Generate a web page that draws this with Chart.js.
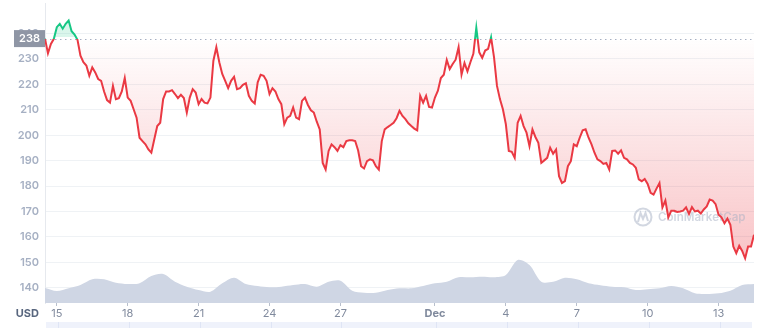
<!DOCTYPE html>
<html>
<head>
<meta charset="utf-8">
<script src="https://cdn.jsdelivr.net/npm/chart.js@4.4.1/dist/chart.umd.min.js"></script>
<style>
  html, body { margin: 0; padding: 0; background: #fff; }
  #wrap { width: 777px; height: 328px; position: relative; }
</style>
</head>
<body>
<div id="wrap"><canvas id="priceChart"></canvas></div>
<script>
// price every 3 hours, starting Nov 14 12:00 (x values are day-of-period, Dec 1 = 31)
const startDay = 14.5;
const stepDays = 3 / 24;
const baseline = 238;

const prices = [
  238.0, 232.2, 235.9, 237.9, 242.5, 243.8, 241.9, 243.8, 245.1, 240.9,
  239.6, 237.5, 231.3, 228.7, 227.4, 223.4, 226.7, 224.7, 222.1, 221.4,
  217.2, 213.8, 212.8, 219.4, 214.2, 214.6, 217.2, 222.5, 214.8, 213.5,
  210.2, 206.9, 199.0, 197.7, 196.4, 194.4, 193.1, 198.4, 203.6, 204.9,
  214.2, 217.2, 217.2, 217.7, 216.2, 214.6, 215.9, 214.6, 208.9, 214.8,
  218.1, 216.8, 212.2, 214.2, 212.8, 212.5, 214.8, 229.3, 234.6, 228.7,
  224.1, 221.4, 218.5, 221.4, 223.0, 218.1, 218.5, 219.8, 220.4, 215.5,
  213.5, 212.5, 220.8, 223.8, 223.4, 221.4, 216.2, 218.5, 217.2, 214.2,
  212.2, 204.3, 206.9, 207.6, 210.9, 206.9, 206.3, 213.5, 214.8, 211.9,
  209.8, 208.9, 205.3, 202.3, 189.1, 186.5, 193.8, 196.4, 195.3, 193.8,
  196.1, 195.3, 197.7, 198.0, 198.0, 197.7, 194.0, 187.8, 186.9, 189.8,
  190.5, 190.1, 187.8, 186.5, 197.7, 202.3, 203.2, 204.0, 204.9, 206.7,
  209.6, 207.6, 206.3, 204.7, 203.6, 202.6, 201.9, 215.5, 212.8, 215.5,
  211.1, 210.9, 214.8, 217.5, 222.5, 223.8, 229.6, 226.0, 228.0, 229.7,
  234.6, 223.8, 228.4, 225.1, 228.7, 232.0, 242.3, 232.6, 230.4, 233.3,
  234.0, 238.5, 230.6, 219.4, 214.2, 210.2, 204.3, 193.8, 193.5, 191.1,
  204.9, 207.6, 203.6, 201.0, 195.7, 202.3, 199.3, 197.0, 189.1, 190.1,
  191.1, 195.1, 192.7, 194.4, 183.9, 181.2, 181.9, 187.8, 189.8, 196.4,
  195.7, 199.0, 201.9, 202.3, 199.0, 196.4, 193.1, 190.5, 189.8, 188.7,
  189.1, 186.5, 193.8, 194.0, 192.7, 194.0, 191.1, 190.5, 189.1, 188.5,
  187.2, 182.6, 181.9, 182.8, 180.8, 177.3, 176.6, 179.0, 181.2, 171.6,
  174.3, 167.7, 170.3, 170.3, 169.8, 170.0, 170.3, 171.6, 169.0, 171.7,
  170.0, 170.3, 169.2, 170.8, 172.0, 174.7, 174.3, 172.9, 168.7, 167.7,
  165.4, 167.2, 164.8, 156.2, 153.6, 156.5, 154.5, 151.6, 156.2, 156.2,
  160.8
];

// volume every 12 hours (millions USD)
const volStep = 0.5;
const volumes = [
  150, 120, 147, 180, 237, 237, 203, 190, 197, 270,
  290, 213, 163, 130, 113, 197, 253, 190, 170, 157,
  163, 180, 190, 163, 213, 223, 123, 103, 103, 130,
  147, 147, 170, 197, 213, 257, 257, 263, 257, 280,
  430, 380, 213, 213, 253, 237, 197, 177, 163, 157,
  130, 137, 147, 170, 147, 97, 90, 97, 123, 180,
  190
];

const yTicks = [140, 150, 160, 170, 180, 190, 200, 210, 220, 230, 240];
const xTickDays = [15, 18, 21, 24, 27, 31, 34, 37, 40, 43];
const xTickLabels = ['15', '18', '21', '24', '27', 'Dec', '4', '7', '10', '13'];

const RED = '#ea3943';
const GREEN = '#16c784';

const priceData = prices.map((p, i) => ({ x: startDay + i * stepDays, y: p }));
const volumeData = volumes.map((v, i) => ({ x: startDay + i * volStep, y: v }));

function baseFrac(chart) {
  const area = chart.chartArea;
  const yb = chart.scales.y.getPixelForValue(baseline);
  return Math.min(1, Math.max(0, (yb - area.top) / (area.bottom - area.top)));
}

function lineColor(ctx) {
  const chart = ctx.chart;
  if (!chart.chartArea) return RED;
  const area = chart.chartArea;
  const f = baseFrac(chart);
  const g = chart.ctx.createLinearGradient(0, area.top, 0, area.bottom);
  g.addColorStop(0, GREEN);
  g.addColorStop(f, GREEN);
  g.addColorStop(f, RED);
  g.addColorStop(1, RED);
  return g;
}

function fillColor(ctx) {
  const chart = ctx.chart;
  if (!chart.chartArea) return 'rgba(234,57,67,0.1)';
  const area = chart.chartArea;
  const f = Math.max(0, baseFrac(chart) - 0.005);
  const low = (chart.scales.y.getPixelForValue(150) - area.top) / (area.bottom - area.top);
  const g = chart.ctx.createLinearGradient(0, area.top, 0, area.bottom);
  g.addColorStop(0, 'rgba(22,199,132,0.16)');
  g.addColorStop(f, 'rgba(22,199,132,0.16)');
  g.addColorStop(f, 'rgba(234,57,67,0.0)');
  g.addColorStop(low, 'rgba(234,57,67,0.30)');
  g.addColorStop(1, 'rgba(234,57,67,0.30)');
  return g;
}

// dotted baseline, watermark, price tag, USD label and navigator strip
const extras = {
  id: 'extras',
  beforeDatasetsDraw(chart) {
    const { ctx, chartArea: a } = chart;
    ctx.save();
    // watermark
    ctx.globalAlpha = 0.5;
    ctx.strokeStyle = '#a6b0c3';
    ctx.lineWidth = 2;
    ctx.beginPath();
    ctx.arc(643, 217, 8.5, 0, Math.PI * 2);
    ctx.stroke();
    ctx.beginPath();
    ctx.moveTo(638, 222);
    ctx.lineTo(640.5, 213);
    ctx.lineTo(643, 219);
    ctx.lineTo(645.5, 213);
    ctx.lineTo(648, 221);
    ctx.stroke();
    ctx.fillStyle = '#a6b0c3';
    let size = 14;
    ctx.font = '600 ' + size + 'px Inter';
    size = size * 88 / ctx.measureText('CoinMarketCap').width;
    ctx.font = '600 ' + size.toFixed(1) + 'px Inter';
    ctx.textBaseline = 'middle';
    ctx.fillText('CoinMarketCap', 658, 218);
    ctx.restore();
  },
  beforeDatasetDraw(chart, args) {
    // dotted line goes over the fill but under the price line
    if (args.index !== 0) return;
    const { ctx, chartArea: a, scales } = chart;
    const yb = Math.round(scales.y.getPixelForValue(baseline)) + 0.5;
    ctx.save();
    ctx.strokeStyle = '#a6b0c3';
    ctx.lineWidth = 1;
    ctx.setLineDash([1.5, 3.5]);
    ctx.beginPath();
    ctx.moveTo(a.left, yb);
    ctx.lineTo(a.right, yb);
    ctx.stroke();
    ctx.restore();
  },
  afterDraw(chart) {
    const { ctx, chartArea: a, scales } = chart;
    const yb = scales.y.getPixelForValue(baseline);
    ctx.save();
    ctx.fillStyle = '#8f96a5';
    ctx.fillRect(14, yb - 8.5, a.left - 14, 17);
    ctx.fillStyle = '#fff';
    ctx.font = '600 11px Inter';
    ctx.textAlign = 'center';
    ctx.textBaseline = 'middle';
    ctx.fillText(String(baseline), 14 + (a.left - 14) / 2, yb);

    ctx.fillStyle = '#58667e';
    ctx.font = 'bold 11px Inter';
    ctx.textAlign = 'right';
    ctx.fillText('USD', 39, 313.5);

    // navigator strip
    ctx.fillStyle = '#eff2fb';
    ctx.fillRect(a.left + 1, 322, a.right - a.left - 3, 6);
    ctx.strokeStyle = '#dfe5f5';
    ctx.lineWidth = 1;
    xTickDays.forEach(d => {
      const x = Math.round(scales.x.getPixelForValue(d)) + 1.5;
      ctx.beginPath();
      ctx.moveTo(x, 322);
      ctx.lineTo(x, 328);
      ctx.stroke();
    });
    ctx.restore();
  }
};

const chart = new Chart(document.getElementById('priceChart'), {
  type: 'line',
  data: {
    datasets: [
      {
        label: 'Price',
        data: priceData,
        yAxisID: 'y',
        borderColor: lineColor,
        backgroundColor: fillColor,
        borderWidth: 2,
        pointRadius: 0,
        tension: 0,
        fill: { value: baseline }
      },
      {
        label: 'Volume',
        data: volumeData,
        yAxisID: 'yv',
        borderWidth: 0,
        borderColor: 'rgba(0,0,0,0)',
        backgroundColor: '#cfd6e4',
        pointRadius: 0,
        tension: 0.3,
        fill: 'origin'
      }
    ]
  },
  options: {
    responsive: true,
    maintainAspectRatio: false,
    animation: false,
    layout: { padding: { top: 3, right: 23, left: 0, bottom: 0 } },
    plugins: {
      legend: { display: false },
      tooltip: { enabled: false },
      filler: { drawTime: 'beforeDatasetsDraw' }
    },
    scales: {
      x: {
        type: 'linear',
        min: 14.5,
        max: 44.5,
        afterFit: (s) => {
          s.height = 25;
          s.paddingLeft = 0;
          s.paddingRight = 0;
        },
        afterBuildTicks: (s) => { s.ticks = xTickDays.map(v => ({ value: v })); },
        border: { display: false },
        grid: { drawOnChartArea: false, drawTicks: true, tickLength: 3, color: '#b8bfcc' },
        ticks: {
          autoSkip: false,
          maxRotation: 0,
          padding: 1,
          color: '#808a9d',
          font: (c) => ({ family: 'Inter', size: 11, weight: c.tick && c.tick.value === 31 ? 'bold' : 'normal' }),
          callback: (v) => xTickLabels[xTickDays.indexOf(v)]
        }
      },
      y: {
        position: 'left',
        min: 134,
        max: 252,
        afterFit: (s) => {
          s.width = 45;
          s.paddingTop = 0;
          s.paddingBottom = 0;
        },
        afterBuildTicks: (s) => { s.ticks = yTicks.map(v => ({ value: v })); },
        border: { display: true, color: '#e6e9ee' },
        grid: { color: '#eff2f5', drawTicks: false },
        ticks: {
          padding: 6,
          color: '#a6b0c3',
          font: { family: 'Inter', size: 11, weight: '600' }
        }
      },
      yv: {
        display: false,
        min: 0,
        max: 3000
      }
    }
  },
  plugins: [extras]
});
</script>
</body>
</html>
